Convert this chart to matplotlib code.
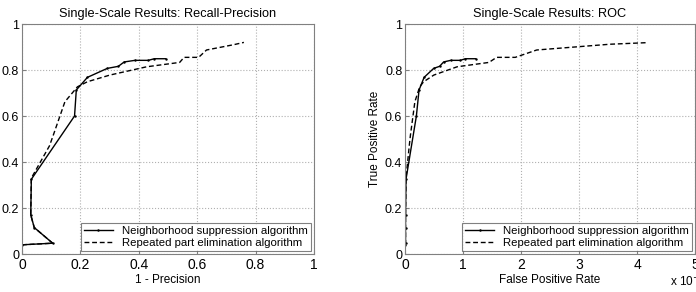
import matplotlib
matplotlib.use("Agg")
import matplotlib.pyplot as plt

plt.rcParams['font.family'] = ['Liberation Sans', 'DejaVu Sans']

# Recall-Precision data (x = 1 - precision, y = recall)
rp_nb_x = [0.0, 0.105, 0.042, 0.030, 0.032, 0.180, 0.186, 0.224, 0.292, 0.330, 0.350, 0.387, 0.433, 0.453, 0.492]
rp_nb_y = [0.040, 0.047, 0.115, 0.170, 0.325, 0.600, 0.713, 0.768, 0.807, 0.816, 0.835, 0.842, 0.842, 0.849, 0.849]
rp_rep_x = [0.0, 0.105, 0.042, 0.030, 0.032, 0.094, 0.107, 0.147, 0.190, 0.224, 0.301, 0.427, 0.540, 0.555, 0.605, 0.632, 0.725, 0.760]
rp_rep_y = [0.040, 0.047, 0.115, 0.170, 0.330, 0.470, 0.516, 0.662, 0.727, 0.749, 0.778, 0.814, 0.833, 0.855, 0.855, 0.887, 0.910, 0.920]

# ROC data (x = false positive rate in units of 1e-3, y = true positive rate)
roc_nb_x = [0.0, 0.008, 0.0075, 0.0078, 0.016, 0.195, 0.241, 0.328, 0.493, 0.595, 0.665, 0.787, 0.952, 1.04, 1.217]
roc_nb_y = [0.040, 0.047, 0.115, 0.170, 0.325, 0.600, 0.713, 0.768, 0.807, 0.816, 0.835, 0.842, 0.842, 0.849, 0.849]
roc_rep_x = [0.0, 0.008, 0.0075, 0.0078, 0.016, 0.072, 0.092, 0.169, 0.252, 0.320, 0.496, 0.898, 1.447, 1.578, 1.90, 2.27, 3.53, 4.18]
roc_rep_y = [0.040, 0.047, 0.115, 0.170, 0.330, 0.470, 0.516, 0.662, 0.727, 0.749, 0.778, 0.814, 0.833, 0.855, 0.855, 0.887, 0.912, 0.919]

labels = ['Neighborhood suppression algorithm', 'Repeated part elimination algorithm']

fig = plt.figure(figsize=(6.96, 2.92), dpi=100)
ax1 = fig.add_axes([0.0316, 0.1301, 0.4195, 0.7877])
ax2 = fig.add_axes([0.582, 0.1301, 0.4166, 0.7877])

def style(ax, xlim, xticks):
    ax.set_xlim(*xlim)
    ax.set_ylim(0, 1)
    ax.set_xticks(xticks)
    ax.set_yticks([0, 0.2, 0.4, 0.6, 0.8, 1])
    ax.set_yticklabels(['0', '0.2', '0.4', '0.6', '0.8', '1'])
    ax.grid(True, linestyle=':', color='#b0b0b0', linewidth=0.8)
    ax.tick_params(direction='in', length=3, color='#808080')
    ax.tick_params(axis='x', labelsize=10, pad=3)
    ax.tick_params(axis='y', labelsize=9, pad=2)
    for s in ax.spines.values():
        s.set_color('#808080')
        s.set_linewidth(0.8)

dash = (0, (3.5, 2))
ax1.plot(rp_nb_x, rp_nb_y, '-', color='black', lw=1.0, marker='.', markersize=1.5, label=labels[0])
ax1.plot(rp_rep_x, rp_rep_y, linestyle=dash, color='black', lw=1.0, label=labels[1])
style(ax1, (0, 1), [0, 0.2, 0.4, 0.6, 0.8, 1])
ax1.set_xticklabels(['0', '0.2', '0.4', '0.6', '0.8', '1'])
ax1.set_title('Single-Scale Results: Recall-Precision', fontsize=9.2, pad=5)
ax1.set_xlabel('1 - Precision', fontsize=8.5, labelpad=1)
ax1.set_ylabel('Recall', fontsize=8.5, labelpad=2)

ax2.plot(roc_nb_x, roc_nb_y, '-', color='black', lw=1.0, marker='.', markersize=1.5, label=labels[0])
ax2.plot(roc_rep_x, roc_rep_y, linestyle=dash, color='black', lw=1.0, label=labels[1])
style(ax2, (0, 5), [0, 1, 2, 3, 4, 5])
ax2.set_xticklabels(['0', '1', '2', '3', '4', '5'])
ax2.set_title('Single-Scale Results: ROC', fontsize=9.2, pad=5)
ax2.set_xlabel('False Positive Rate', fontsize=8.5, labelpad=1)
ax2.set_ylabel('True Positive Rate', fontsize=8.5, labelpad=3)
fig.text(670 / 696, 6 / 292, 'x 10$^{-3}$', fontsize=8.5, va='baseline', ha='left')

for ax in (ax1, ax2):
    leg = ax.legend(loc='lower right', fontsize=8.2, frameon=True, fancybox=False,
                    edgecolor='#606060', borderpad=0.25, handlelength=2.5,
                    labelspacing=0.15, borderaxespad=0.3, handletextpad=0.8)
    leg.get_frame().set_linewidth(0.8)

fig.savefig('out.png', dpi=100)
